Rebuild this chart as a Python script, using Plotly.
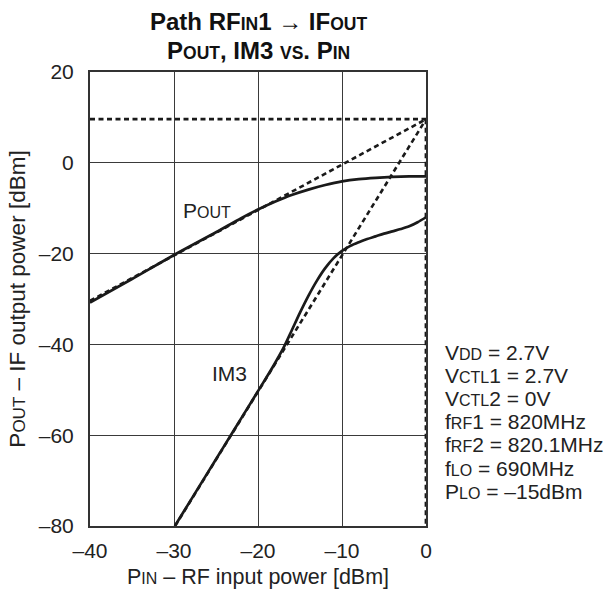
import plotly.graph_objects as go

# Measured characteristics, path RFIN1 -> IFOUT
pin_pout = [-40, -35, -30, -25, -22, -20, -18, -16, -14, -12, -10, -8, -6, -4, -2, 0]
pout = [-30.8, -25.6, -20.3, -15.3, -12.2, -10.3, -8.6, -7.1, -5.9, -4.9, -4.1, -3.6, -3.3, -3.1, -3.0, -3.0]

pin_im3 = [-29.9, -28, -26, -24, -22, -20, -19, -18, -17, -16, -15, -14, -13, -12, -11,
           -10, -9, -8, -7, -6, -5, -4, -3, -2, -1, 0]
im3 = [-80.0, -74.3, -68.3, -62.3, -56.3, -50.3, -47.3, -44.2, -40.9, -37.0, -33.0, -29.3, -26.0,
       -23.2, -21.0, -19.4, -18.3, -17.5, -16.8, -16.2, -15.6, -15.1, -14.6, -14.0, -13.1, -12.0]

# Third-order intercept point
iip3 = 0.0
oip3 = 9.6

# Linear extrapolations (slope 1 and slope 3) towards the intercept
pout_fit_x = [-40, iip3]
pout_fit_y = [-30.4, oip3]
im3_fit_x = [-29.87, iip3]
im3_fit_y = [-80, oip3]

x_ticks = [-40, -30, -20, -10, 0]
x_ticktext = ["\u201340", "\u201330", "\u201320", "\u201310", "0"]
y_ticks = [-80, -60, -40, -20, 0, 20]
y_ticktext = ["\u201380", "\u201360", "\u201340", "\u201320", "0", "20"]

SC = "<span style='font-size:16px'>{}</span>"
conditions = [
    "V" + SC.format("DD") + " = 2.7V",
    "V" + SC.format("CTL") + "1 = 2.7V",
    "V" + SC.format("CTL") + "2 = 0V",
    "f" + SC.format("RF") + "1 = 820MHz",
    "f" + SC.format("RF") + "2 = 820.1MHz",
    "f" + SC.format("LO") + " = 690MHz",
    "P" + SC.format("LO") + " = \u201315dBm",
]

FONT = "Liberation Sans, Arial, sans-serif"
INK = "#1a1a1a"
TXT = "#222222"
DASH = "5px,3.5px"

fig = go.Figure()

# Dotted construction lines
fig.add_trace(go.Scatter(x=[-40, iip3], y=[oip3, oip3], mode="lines",
                         line=dict(color=INK, width=2.8, dash=DASH), hoverinfo="skip"))
fig.add_trace(go.Scatter(x=[iip3, iip3], y=[oip3, -80], mode="lines",
                         line=dict(color=INK, width=2.8, dash=DASH), hoverinfo="skip"))
fig.add_trace(go.Scatter(x=pout_fit_x, y=pout_fit_y, mode="lines",
                         line=dict(color=INK, width=2.6, dash=DASH), hoverinfo="skip"))
fig.add_trace(go.Scatter(x=im3_fit_x, y=im3_fit_y, mode="lines",
                         line=dict(color=INK, width=2.6, dash=DASH), hoverinfo="skip"))

# Measured curves
fig.add_trace(go.Scatter(x=pin_pout, y=pout, mode="lines", name="POUT",
                         line=dict(color=INK, width=2.7, shape="spline", smoothing=0.8)))
fig.add_trace(go.Scatter(x=pin_im3, y=im3, mode="lines", name="IM3",
                         line=dict(color=INK, width=2.7, shape="spline", smoothing=0.8)))

axis_common = dict(
    showgrid=True, gridcolor="#3a3a3a", gridwidth=1,
    showline=True, linecolor="#333333", linewidth=2, mirror=True,
    ticks="", zeroline=False, automargin=False,
    tickfont=dict(family=FONT, size=21, color=TXT),
)

fig.update_xaxes(range=[-40, 0], tickvals=x_ticks, ticktext=x_ticktext,
                 ticklabelstandoff=5,
                 title=dict(text="P<span style='font-size:16px'>IN</span> \u2013 RF input power [dBm]",
                            font=dict(family=FONT, size=21.5, color=TXT), standoff=8),
                 **axis_common)
fig.update_yaxes(range=[-80, 20], tickvals=y_ticks, ticktext=y_ticktext,
                 ticklabelstandoff=10,
                 title=dict(text="P<span style='font-size:17px'>OUT</span> \u2013 IF output power [dBm]",
                            font=dict(family=FONT, size=22.5, color=TXT), standoff=7),
                 **axis_common)

fig.add_annotation(x=-26.1, y=-10.5, text="P" + SC.format("OUT"),
                   showarrow=False, font=dict(family=FONT, size=21, color=TXT))
fig.add_annotation(x=-23.4, y=-46.4, text="IM3",
                   showarrow=False, font=dict(family=FONT, size=21, color=TXT))

for i, line in enumerate(conditions):
    fig.add_annotation(xref="paper", yref="paper", x=1.05, xanchor="left",
                       y=(526 - (352 + 23.2 * i)) / 454, yanchor="middle",
                       text=line, showarrow=False, align="left",
                       font=dict(family=FONT, size=21, color=TXT))

# Two-line bold heading
SCB = "<span style='font-size:17.5px'>{}</span>"
heading = [
    "<b>Path RF" + SCB.format("IN") + "1 \u2192 IF" + SCB.format("OUT") + "</b>",
    "<b>P" + SCB.format("OUT") + ", IM3 " + SCB.format("VS") + ". P" + SCB.format("IN") + "</b>",
]
for line, ypx in zip(heading, [21.5, 50]):
    fig.add_annotation(xref="paper", yref="paper", x=0.5, xanchor="center",
                       y=(526 - ypx) / 454, yanchor="middle",
                       text=line, showarrow=False,
                       font=dict(family=FONT, size=24, color="#111111"))

fig.update_layout(
    width=607, height=589,
    margin=dict(l=90, r=181, t=72, b=63),
    paper_bgcolor="white", plot_bgcolor="white",
    showlegend=False,
)

fig.write_html("out.html")
